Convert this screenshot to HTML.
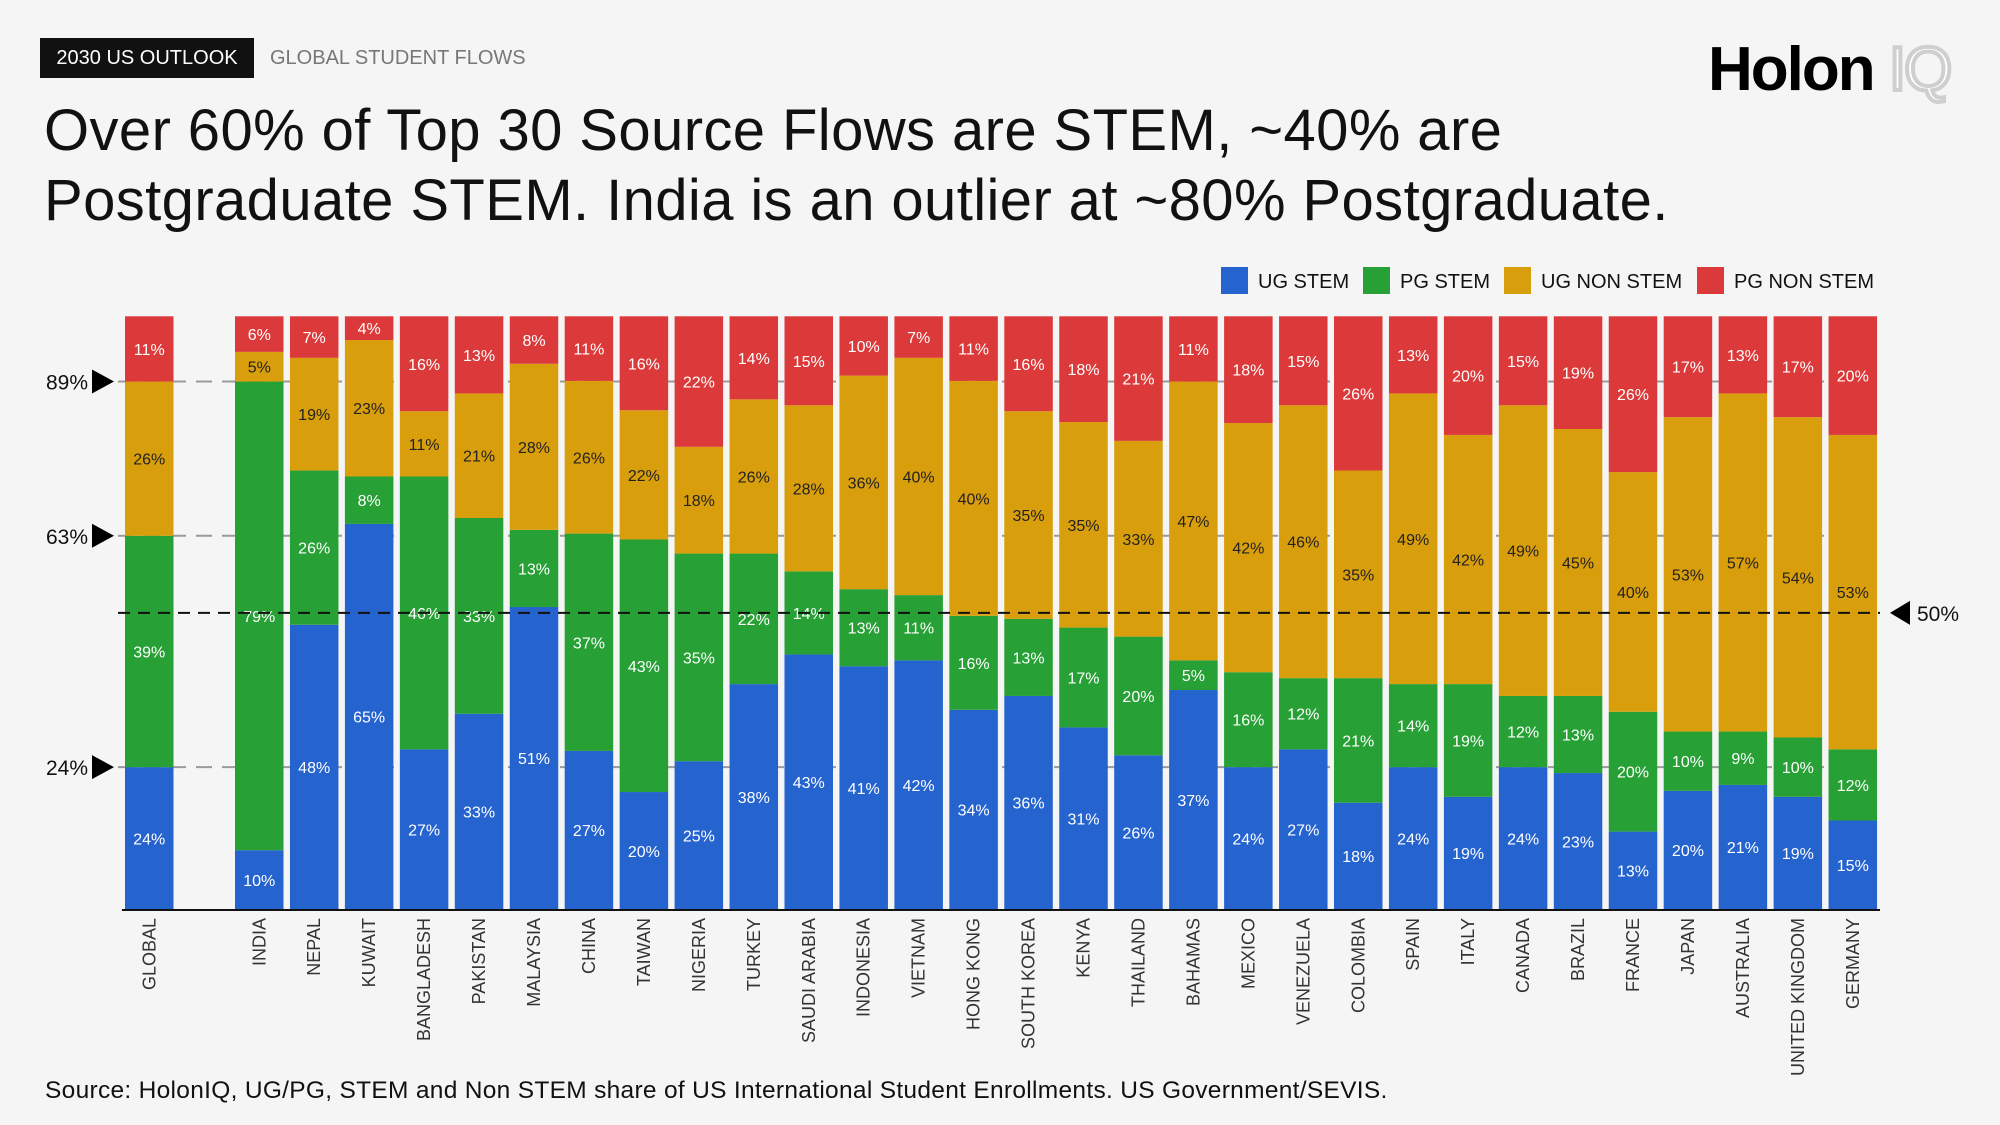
<!DOCTYPE html>
<html><head><meta charset="utf-8">
<style>
body{margin:0;background:#f5f5f5;font-family:"Liberation Sans","DejaVu Sans",sans-serif;}
#wrap{position:relative;width:2000px;height:1125px;overflow:hidden;background:#f5f5f5;}
.tag{position:absolute;left:40px;top:38px;width:214px;height:40px;background:#111;color:#fff;font-size:20px;line-height:40px;text-align:center;}
.sub{position:absolute;left:270px;top:38px;line-height:40px;font-size:20px;color:#777;}
.title{position:absolute;left:44px;top:96px;font-size:58px;line-height:70px;color:#111;letter-spacing:0.4px;}
.logo{position:absolute;left:1708px;top:34px;font-size:62px;font-weight:bold;color:#000;letter-spacing:-2px;}
.logo span{color:#fff;-webkit-text-stroke:4px #cfcfcf;font-weight:normal;}
.src{position:absolute;left:45px;top:1077px;font-size:24.5px;color:#111;letter-spacing:0.3px;}
</style></head><body>
<div id="wrap">
<div class="tag">2030 US OUTLOOK</div>
<div class="sub">GLOBAL STUDENT FLOWS</div>
<div class="logo">Holon <span>IQ</span></div>
<div class="title">Over 60% of Top 30 Source Flows are STEM, ~40% are<br>Postgraduate STEM. India is an outlier at ~80% Postgraduate.</div>
<svg id="chart" width="2000" height="1125" style="position:absolute;left:0;top:0"></svg>
<div class="src">Source: HolonIQ, UG/PG, STEM and Non STEM share of US International Student Enrollments. US Government/SEVIS.</div>
</div>
<script>
const categories=["GLOBAL","INDIA","NEPAL","KUWAIT","BANGLADESH","PAKISTAN","MALAYSIA","CHINA","TAIWAN","NIGERIA","TURKEY","SAUDI ARABIA","INDONESIA","VIETNAM","HONG KONG","SOUTH KOREA","KENYA","THAILAND","BAHAMAS","MEXICO","VENEZUELA","COLOMBIA","SPAIN","ITALY","CANADA","BRAZIL","FRANCE","JAPAN","AUSTRALIA","UNITED KINGDOM","GERMANY"];
const ugStem=[24,10,48,65,27,33,51,27,20,25,38,43,41,42,34,36,31,26,37,24,27,18,24,19,24,23,13,20,21,19,15];
const pgStem=[39,79,26,8,46,33,13,37,43,35,22,14,13,11,16,13,17,20,5,16,12,21,14,19,12,13,20,10,9,10,12];
const ugNon=[26,5,19,23,11,21,28,26,22,18,26,28,36,40,40,35,35,33,47,42,46,35,49,42,49,45,40,53,57,54,53];
const pgNon=[11,6,7,4,16,13,8,11,16,22,14,15,10,7,11,16,18,21,11,18,15,26,13,20,15,19,26,17,13,17,20];
const refLines=[89,63,24];
const midLine=50;
const seriesNames=["UG STEM","PG STEM","UG NON STEM","PG NON STEM"];
const colors=["#2563cf","#27a035","#d99e0b","#dc3a3a"];
const textCols=["#fff","#fff","#222","#fff"];
const NS="http://www.w3.org/2000/svg";
const svg=document.getElementById("chart");
const Y0=909.5,H=593.2;
function y(v){return Y0-v/100*H;}
function slotX(i){return i===0?125:235+(i-1)*54.95;}
const BW=48.5;
function mk(t,a,p){const e=document.createElementNS(NS,t);for(const k in a)e.setAttribute(k,a[k]);(p||svg).appendChild(e);return e;}
const series=[ugStem,pgStem,ugNon,pgNon];
refLines.forEach(v=>{
  const l=mk("line",{x1:118,x2:1880,y1:y(v),y2:y(v),stroke:"#9a9a9a","stroke-width":2,"stroke-dasharray":"16,10"});
  
  
  const t=mk("text",{x:46,y:y(v)+8,"font-size":21,fill:"#111"});t.textContent=v+"%";
  
  
  const p=mk("polygon",{points:`92,${y(v)-12} 114,${y(v)} 92,${y(v)+12}`,fill:"#000"});
  
  
});
categories.forEach((c,i)=>{
  const tot=series.reduce((s,a)=>s+a[i],0);
  let acc=0;const x=slotX(i);
  series.forEach((arr,s)=>{
    const v=arr[i]/tot*100;
    const r=mk("rect",{x:x,y:y(acc+v),width:BW,height:v/100*H,fill:colors[s]});
    
    
    const t=mk("text",{x:x+BW/2,y:y(acc+v/2)+6,"text-anchor":"middle","font-size":16,fill:textCols[s]});
    t.textContent=arr[i]+"%";
    
    
    acc+=v;
  });
  const lx=x+BW/2+6;
  const lt=mk("text",{x:lx,y:918,transform:`rotate(-90 ${lx} 918)`,"text-anchor":"end","font-size":18,fill:"#333"});
  lt.textContent=c;
  
  
});
const ml=mk("line",{x1:118,x2:1880,y1:y(midLine),y2:y(midLine),stroke:"#111","stroke-width":2,"stroke-dasharray":"12,8"});


const ma=mk("polygon",{points:`1910,${y(midLine)-12} 1890,${y(midLine)} 1910,${y(midLine)+12}`,fill:"#000"});


const mt=mk("text",{x:1917,y:y(midLine)+8,"font-size":21,fill:"#111"});mt.textContent=midLine+"%";


const ax=mk("line",{x1:122,x2:1880,y1:910,y2:910,stroke:"#111","stroke-width":2});


const lgX=[1221,1363,1504,1697];
seriesNames.forEach((n,s)=>{
  const r=mk("rect",{x:lgX[s],y:267,width:27,height:27,fill:colors[s]});
  
  
  const t=mk("text",{x:lgX[s]+37,y:288,"font-size":20,fill:"#111"});t.textContent=n;
  
  
});
</script>
</body></html>
